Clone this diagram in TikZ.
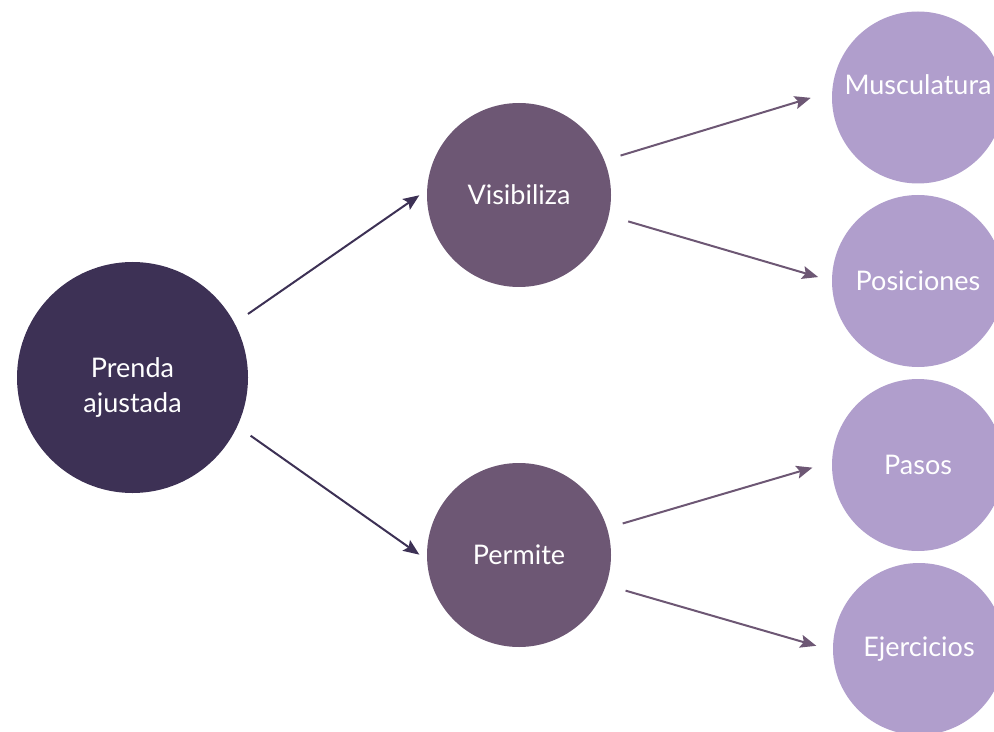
\documentclass[tikz,border=0pt]{standalone}
\usepackage{fontspec}
\setmainfont{Lato}
\usepackage{tikz}
\usetikzlibrary{positioning, arrows.meta}
\definecolor{prendaDark}{HTML}{3D3155}
\definecolor{prendaMid}{HTML}{6D5774}
\definecolor{prendaLight}{HTML}{B09ECC}

\begin{document}
\begin{tikzpicture}[x=0.5pt, y=-0.5pt,
            font=\fontsize{13.5}{17.5}\selectfont,
            raiz/.style={
              circle, fill=prendaDark, inner sep=0pt,
              minimum size=115.5pt, text=white, align=center
            },
            medio/.style={
              circle, fill=prendaMid, inner sep=0pt,
              minimum size=92pt, text=white
            },
            hoja/.style={
              circle, fill=prendaLight, inner sep=0pt,
              minimum size=86pt, text=white
            },
            flecha/.style={
              -{Stealth[length=8pt, width=6.5pt, inset=1.5pt]},
              line width=1pt
            }
          ]
          \useasboundingbox (0,0) rectangle (994,732);
          % Nodo raiz
          \node[raiz, label={[text=white, align=center, yshift=-5pt]center:Prenda\\ajustada}]
            (prenda) at (132.5,377.5) {};
          % Nivel intermedio
          \node[medio] (visibiliza) at (519,195) {Visibiliza};
          \node[medio] (permite) at (519,555) {Permite};
          % Hojas (recortadas por el borde derecho)
          \node[hoja, label={[text=white, yshift=6.5pt]center:Musculatura}]
            (musculatura) at (918,97.5) {};
          \node[hoja] (posiciones) at (918,281) {Posiciones};
          \node[hoja] (pasos) at (918,465) {Pasos};
          \node[hoja] (ejercicios) at (919,649) {Ejercicios};

          % Flechas
          \draw[flecha, prendaDark, shorten <=8pt, shorten >=4.5pt]
            (prenda.28) -- (visibiliza.177);
          \draw[flecha, prendaDark, shorten <=8pt, shorten >=4.5pt]
            (prenda.-25) -- (permite.183);
          \draw[flecha, prendaMid, shorten <=8.3pt, shorten >=11pt]
            (visibiliza.22) -- (musculatura.176);
          \draw[flecha, prendaMid, shorten <=10pt, shorten >=7pt]
            (visibiliza.-13) -- (posiciones.180);
          \draw[flecha, prendaMid, shorten <=8pt, shorten >=10pt]
            (permite.17) -- (pasos.178);
          \draw[flecha, prendaMid, shorten <=10pt, shorten >=8.5pt]
            (permite.-19) -- (ejercicios.181);
\end{tikzpicture}
\end{document}
